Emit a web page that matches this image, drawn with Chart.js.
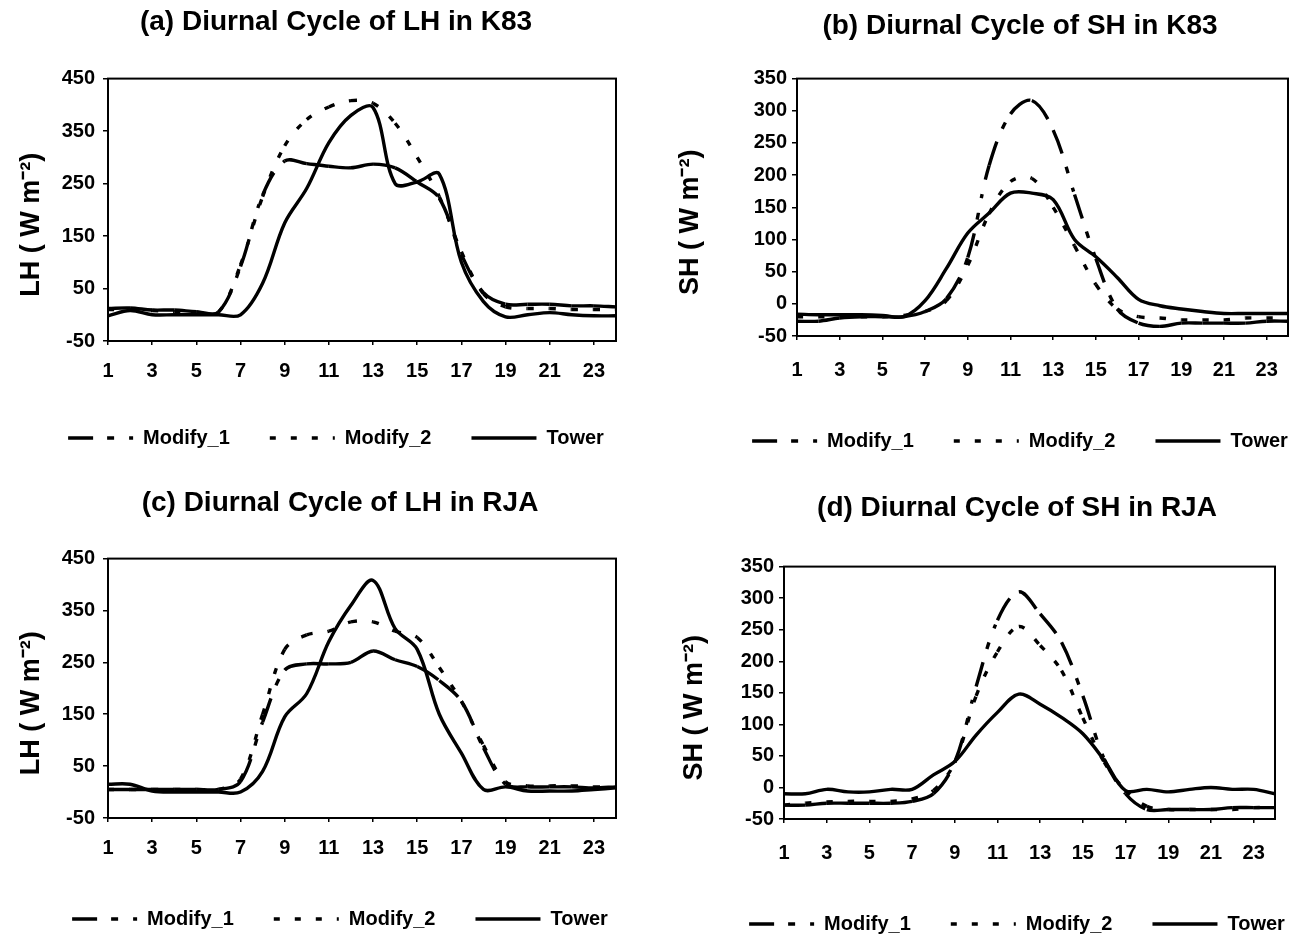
<!DOCTYPE html>
<html>
<head>
<meta charset="utf-8">
<title>Diurnal Cycle of LH and SH</title>
<script src="https://cdn.jsdelivr.net/npm/chart.js@4.4.1/dist/chart.umd.min.js"></script>
<style>
  html, body { margin: 0; padding: 0; background: #fff; }
  #page { position: relative; width: 1294px; height: 937px; overflow: hidden; background: #fff; }
  #page canvas { position: absolute; }
</style>
</head>
<body>
<div id="page">
  <canvas id="cA"></canvas>
  <canvas id="cB"></canvas>
  <canvas id="cC"></canvas>
  <canvas id="cD"></canvas>
</div>
<script>
// ===== Datos =====
const hours = [1, 2, 3, 4, 5, 6, 7, 8, 9, 10, 11, 12, 13, 14, 15, 16, 17, 18, 19, 20, 21, 22, 23, 24];
const seriesNames = ['Modify_1', 'Modify_2', 'Tower'];

const titleA = '(a) Diurnal Cycle of LH in K83';
const titleB = '(b) Diurnal Cycle of SH in K83';
const titleC = '(c) Diurnal Cycle of LH in RJA';
const titleD = '(d) Diurnal Cycle of SH in RJA';
const yTitleLH = 'LH ( W m\u207B\u00B2)    ';
const yTitleSH = 'SH ( W m\u207B\u00B2)    ';

const lhRange = [-50, 450];
const lhStep = 100;
const shRange = [-50, 350];
const shStep = 50;

// (a) LH K83
const lhK83Mod1  = [12, 13, 9, 9, 6, 5, 92, 228, 293, 288, 283, 280, 287, 280, 253, 222, 115, 42, 20, 20, 20, 17, 17, 15];
const lhK83Mod2  = [10, 10, 8, 6, 5, 5, 95, 225, 322, 372, 396, 408, 403, 365, 300, 225, 120, 40, 15, 12, 12, 10, 10, 10];
const lhK83Tower = [-2, 8, 0, 0, 0, 0, 0, 60, 175, 241, 328, 380, 395, 250, 253, 268, 100, 25, -4, 0, 4, 0, -2, -2];

// (b) SH K83
const shK83Mod1  = [-27, -27, -22, -20, -20, -20, -12, 8, 72, 215, 295, 316, 270, 170, 70, -8, -30, -35, -30, -30, -30, -30, -27, -27];
const shK83Mod2  = [-20, -20, -20, -20, -20, -18, -12, 5, 60, 140, 190, 195, 150, 90, 30, -8, -20, -22, -25, -25, -25, -22, -22, -22];
const shK83Tower = [-16, -17, -17, -17, -18, -20, 5, 55, 110, 141, 172, 172, 162, 100, 73, 41, 7, -3, -8, -12, -15, -15, -15, -15];

// (c) LH RJA
const lhRjaMod1  = [5, 5, 5, 5, 5, 5, 20, 135, 235, 247, 247, 250, 272, 255, 242, 215, 175, 85, 15, 10, 10, 10, 8, 10];
const lhRjaMod2  = [5, 5, 5, 5, 5, 5, 25, 150, 275, 303, 310, 328, 328, 310, 298, 240, 175, 90, 20, 12, 12, 12, 10, 10];
const lhRjaTower = [15, 15, 2, 0, 0, 0, 0, 40, 145, 190, 290, 360, 408, 315, 275, 150, 75, 5, 10, 2, 2, 2, 5, 8];

// (d) SH RJA
const shRjaMod1  = [-28, -28, -25, -25, -25, -25, -22, -10, 40, 160, 265, 310, 275, 230, 145, 45, -10, -35, -35, -35, -35, -32, -32, -32];
const shRjaMod2  = [-28, -25, -23, -22, -22, -22, -18, -5, 40, 145, 215, 255, 225, 185, 110, 40, -5, -30, -35, -35, -35, -35, -32, -32];
const shRjaTower = [-10, -10, -3, -7, -7, -3, -3, 20, 41, 83, 119, 148, 132, 111, 85, 43, -5, -3, -7, -3, 0, -3, -3, -10];

(() => {
    'use strict';

    Chart.defaults.font.family = '"Liberation Sans", Arial, sans-serif';
    Chart.defaults.color = '#000';

    // patrones de trazo (como en Excel: se reinician en cada tramo)
    const DASH_MOD1 = [25, 14, 7, 15, 4, 15];
    const DASH_MOD2 = [6, 15];

    // ===== Paneles: posición y ajustes de layout =====
    const panels = [
        { id: 'cA', x: 0,   y: 0,   w: 672, h: 468, title: titleA, yTitle: yTitleLH, range: lhRange, step: lhStep,
          values: [lhK83Mod1, lhK83Mod2, lhK83Tower], yW: 108, rW: 56, yPad: 8, yTitlePad: 15, xH: 47, xPad: 14, tTop: 5,  tBot: 40, padB: 10 },
        { id: 'cB', x: 660, y: 0,   w: 720, h: 468, title: titleB, yTitle: yTitleSH, range: shRange, step: shStep,
          values: [shK83Mod1, shK83Mod2, shK83Tower], yW: 137, rW: 92, yPad: 5, yTitlePad: 14, xH: 55, xPad: 18, tTop: 9,  tBot: 36, padB: 7 },
        { id: 'cC', x: 0,   y: 468, w: 680, h: 480, title: titleC, yTitle: yTitleLH, range: lhRange, step: lhStep,
          values: [lhRjaMod1, lhRjaMod2, lhRjaTower], yW: 108, rW: 64, yPad: 8, yTitlePad: 15, xH: 51, xPad: 14, tTop: 18, tBot: 39, padB: 9 },
        { id: 'cD', x: 660, y: 468, w: 714, h: 480, title: titleD, yTitle: yTitleSH, range: shRange, step: shStep,
          values: [shRjaMod1, shRjaMod2, shRjaTower], yW: 124, rW: 99, yPad: 5, yTitlePad: 18, xH: 55, xPad: 18, tTop: 23, tBot: 42, padB: 4 }
    ];

    // marco del área de trazado
    const frame = {
        id: 'frame',
        beforeDatasetsDraw(chart) {
            const { ctx, chartArea: a } = chart;
            ctx.save();
            ctx.strokeStyle = '#000';
            ctx.lineWidth = 2;
            ctx.strokeRect(a.left, a.top, a.right - a.left, a.bottom - a.top);
            ctx.restore();
        }
    };

    function lineSet(label, data, dash) {
        const ds = {
            label, data,
            borderColor: '#000', backgroundColor: '#000', borderWidth: 3.4,
            borderDash: dash, borderCapStyle: 'butt', borderJoinStyle: 'round',
            pointRadius: 0, pointHoverRadius: 0, tension: 0.35, fill: false
        };
        // alternar el offset obliga a dibujar cada tramo aparte -> el patrón reinicia
        if (dash.length) ds.segment = { borderDashOffset: c => (c.p0DataIndex % 2) * 0.001 };
        return ds;
    }

    function makeChart(p) {
        const cv = document.getElementById(p.id);
        cv.width = p.w; cv.height = p.h;
        cv.style.left = p.x + 'px'; cv.style.top = p.y + 'px';
        cv.style.width = p.w + 'px'; cv.style.height = p.h + 'px';

        return new Chart(cv.getContext('2d'), {
            type: 'line',
            data: {
                labels: hours,
                datasets: [
                    lineSet(seriesNames[0], p.values[0], DASH_MOD1),
                    lineSet(seriesNames[1], p.values[1], DASH_MOD2),
                    lineSet(seriesNames[2], p.values[2], [])
                ]
            },
            options: {
                responsive: false,
                animation: false,
                devicePixelRatio: 1,
                layout: { padding: { left: 0, right: 0, top: 0, bottom: p.padB } },
                plugins: {
                    tooltip: { enabled: false },
                    title: {
                        display: true, text: p.title, color: '#000',
                        font: { size: 28, weight: 'bold' },
                        padding: { top: p.tTop, bottom: p.tBot }
                    },
                    legend: {
                        position: 'bottom',
                        labels: {
                            usePointStyle: true, pointStyleWidth: 65, padding: 40, color: '#000',
                            font: { size: 20, weight: 'bold' },
                            generateLabels: chart => chart.data.datasets.map((ds, i) => ({
                                text: ds.label, datasetIndex: i, hidden: false,
                                fillStyle: '#000', strokeStyle: '#000', fontColor: '#000',
                                lineWidth: 3.4, lineDash: ds.borderDash, lineCap: 'butt',
                                pointStyle: 'line', rotation: 180
                            }))
                        }
                    }
                },
                scales: {
                    x: {
                        border: { display: false },
                        grid: {
                            drawOnChartArea: false, drawTicks: true, tickLength: 4, lineWidth: 1.5,
                            color: c => (c.index % 2 === 0 ? '#000' : 'rgba(0,0,0,0)')
                        },
                        ticks: {
                            autoSkip: false, maxRotation: 0, minRotation: 0, padding: p.xPad, color: '#000',
                            font: { size: 20, weight: 'bold' },
                            callback: (v, i) => (i % 2 === 0 ? String(hours[i]) : '')
                        },
                        afterFit: s => { s.height = p.xH; }
                    },
                    y: {
                        min: p.range[0], max: p.range[1],
                        border: { display: false },
                        grid: { drawOnChartArea: false, drawTicks: true, tickLength: 5, lineWidth: 1.5, color: '#000' },
                        ticks: { stepSize: p.step, padding: p.yPad, color: '#000', font: { size: 20, weight: 'bold' } },
                        title: {
                            display: true, text: p.yTitle, color: '#000',
                            font: { size: 27, weight: 'bold' },
                            padding: { top: p.yTitlePad, bottom: 0 }
                        },
                        afterFit: s => { s.width = p.yW; }
                    },
                    y2: {
                        position: 'right', display: true,
                        border: { display: false },
                        grid: { display: false },
                        ticks: { display: false },
                        afterFit: s => { s.width = p.rW; }
                    }
                }
            },
            plugins: [frame]
        });
    }

    function boot() {
        panels.forEach(makeChart);
    }

    if (document.readyState === 'loading') {
        document.addEventListener('DOMContentLoaded', boot, { once: true });
    } else {
        boot();
    }
})();
</script>
</body>
</html>
